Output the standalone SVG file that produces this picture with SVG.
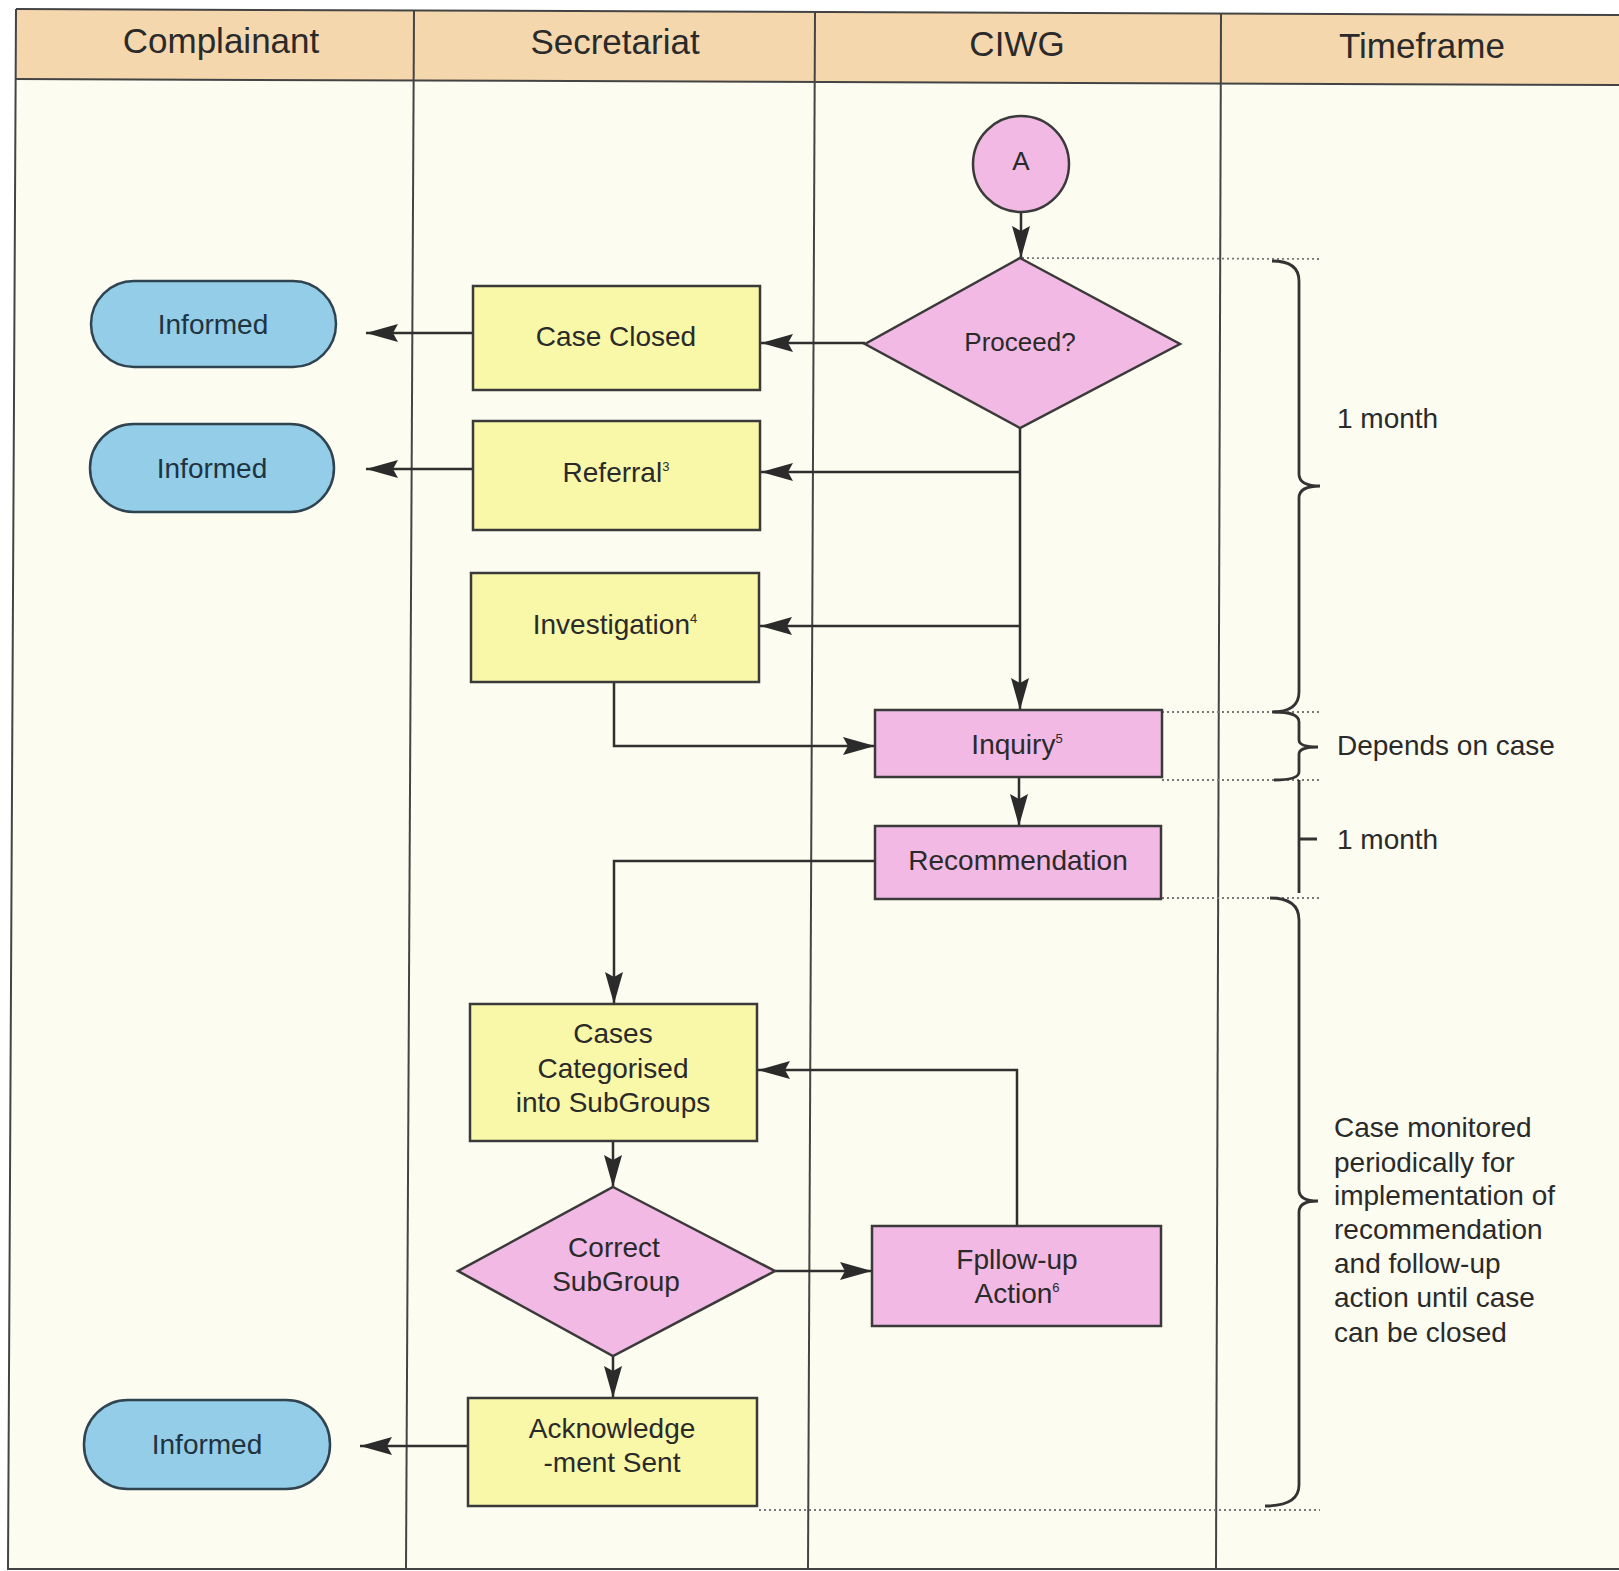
<svg xmlns="http://www.w3.org/2000/svg" width="1619" height="1571" viewBox="0 0 1619 1571">
<defs>
<marker id="ah" markerUnits="userSpaceOnUse" markerWidth="34" markerHeight="20" refX="32" refY="9" orient="auto">
<path d="M0,0 L32,9 L0,18 L5,9 z" fill="#2b2b2b"/>
</marker>
</defs>
<style>
.lane{stroke:#444;stroke-width:2;fill:none}
.hdr{font-family:"Liberation Sans",Arial,sans-serif;font-size:35px;fill:#2a2a2a;text-anchor:middle}
.t{font-family:"Liberation Sans",Arial,sans-serif;font-size:28px;fill:#2a2a2a;text-anchor:middle}
.tb{fill:#1f3340}
.tf{font-family:"Liberation Sans",Arial,sans-serif;font-size:28px;fill:#2a2a2a}
.yel{fill:#f9f8a8;stroke:#3a3a3a;stroke-width:2.5}
.pink{fill:#f1b9e3;stroke:#3a3a3a;stroke-width:2.5}
.blue{fill:#93cde8;stroke:#2f4450;stroke-width:2.5}
.con{fill:none;stroke:#2f2f2f;stroke-width:2.5}
.arr{marker-end:url(#ah)}
.dot{stroke:#777;stroke-width:1.8;stroke-dasharray:2 3;fill:none}
.brace{fill:none;stroke:#333;stroke-width:2.8}
.sup{font-size:13px}
</style>
<rect x="0" y="0" width="1619" height="1571" fill="#ffffff"/>
<polygon points="16,9 1619,15 1619,1569 8,1569" fill="#fdfcf0"/>
<polygon points="16,9 1619,15 1619,85 15,79" fill="#f5d7ae"/>
<g id="frame">
<polyline class="lane" points="16,9 1619,15"/>
<polyline class="lane" points="15,79 1619,85"/>
<polyline class="lane" points="16,9 8,1569 1619,1569"/>
<line class="lane" x1="414" y1="10" x2="406" y2="1569"/>
<line class="lane" x1="815" y1="12" x2="808" y2="1569"/>
<line class="lane" x1="1221" y1="13" x2="1216" y2="1569"/>
</g>
<g id="headers">
<text class="hdr" x="221" y="53">Complainant</text>
<text class="hdr" x="615" y="54">Secretariat</text>
<text class="hdr" x="1017" y="56">CIWG</text>
<text class="hdr" x="1422" y="58">Timeframe</text>
</g>
<g id="guides">
<line class="dot" x1="1022" y1="258" x2="1322" y2="259"/>
<line class="dot" x1="1162" y1="712" x2="1322" y2="712"/>
<line class="dot" x1="1162" y1="780" x2="1322" y2="780"/>
<line class="dot" x1="1162" y1="898" x2="1322" y2="898"/>
<line class="dot" x1="759" y1="1510" x2="1320" y2="1510"/>
</g>
<g id="braces">
<path class="brace" d="M1272,261 Q1299,261 1299,281 L1299,474 Q1299,486 1320,486 Q1299,486 1299,498 L1299,692 Q1299,712 1272,712"/>
<path class="brace" d="M1274,712 Q1299,712 1299,722 L1299,740 Q1299,747 1318,747 Q1299,747 1299,754 L1299,772 Q1299,780 1274,780"/>
<path class="brace" d="M1299,780 L1299,893 M1299,839 L1317,839"/>
<path class="brace" d="M1270,898 Q1299,898 1299,920 L1299,1190 Q1299,1201 1318,1201 Q1299,1201 1299,1212 L1299,1485 Q1299,1506 1265,1506"/>
</g>
<g id="timeframe-labels">
<text class="tf" x="1337" y="428">1 month</text>
<text class="tf" x="1337" y="755">Depends on case</text>
<text class="tf" x="1337" y="849">1 month</text>
<text class="tf" x="1334" y="1137">Case monitored</text>
<text class="tf" x="1334" y="1172">periodically for</text>
<text class="tf" x="1334" y="1205">implementation of</text>
<text class="tf" x="1334" y="1239">recommendation</text>
<text class="tf" x="1334" y="1273">and follow-up</text>
<text class="tf" x="1334" y="1307">action until case</text>
<text class="tf" x="1334" y="1342">can be closed</text>
</g>
<g id="connectors">
<line class="con arr" x1="1021" y1="213" x2="1021" y2="258"/>
<line class="con arr" x1="865" y1="343" x2="761" y2="343"/>
<line class="con arr" x1="473" y1="333" x2="366" y2="333"/>
<line class="con arr" x1="1020" y1="428" x2="1020" y2="710"/>
<line class="con arr" x1="1020" y1="472" x2="761" y2="472"/>
<line class="con arr" x1="473" y1="469" x2="366" y2="469"/>
<line class="con arr" x1="1020" y1="626" x2="760" y2="626"/>
<polyline class="con arr" points="614,682 614,746 875,746"/>
<line class="con arr" x1="1019" y1="777" x2="1019" y2="826"/>
<polyline class="con arr" points="875,861 614,861 614,1004"/>
<line class="con arr" x1="613" y1="1141" x2="613" y2="1187"/>
<line class="con arr" x1="775" y1="1271" x2="872" y2="1271"/>
<polyline class="con arr" points="1017,1226 1017,1070 758,1070"/>
<line class="con arr" x1="613" y1="1356" x2="613" y2="1398"/>
<line class="con arr" x1="468" y1="1446" x2="360" y2="1446"/>
</g>
<g id="node-A">
<circle class="pink" cx="1021" cy="164" r="48"/>
<text class="t" x="1021" y="170" style="font-size:26px">A</text>
</g>
<g id="node-proceed">
<polygon class="pink" points="1020,258 1180,344 1020,428 865,344"/>
<text class="t" x="1020" y="351" style="font-size:26px">Proceed?</text>
</g>
<g id="node-case-closed">
<rect class="yel" x="473" y="286" width="287" height="104"/>
<text class="t" x="616" y="346">Case Closed</text>
</g>
<g id="node-referral">
<rect class="yel" x="473" y="421" width="287" height="109"/>
<text class="t" x="616" y="482">Referral<tspan class="sup" dy="-11">3</tspan></text>
</g>
<g id="node-investigation">
<rect class="yel" x="471" y="573" width="288" height="109"/>
<text class="t" x="615" y="634">Investigation<tspan class="sup" dy="-11">4</tspan></text>
</g>
<g id="node-inquiry">
<rect class="pink" x="875" y="710" width="287" height="67"/>
<text class="t" x="1017" y="754">Inquiry<tspan class="sup" dy="-11">5</tspan></text>
</g>
<g id="node-recommendation">
<rect class="pink" x="875" y="826" width="286" height="73"/>
<text class="t" x="1018" y="870">Recommendation</text>
</g>
<g id="node-cases-categorised">
<rect class="yel" x="470" y="1004" width="287" height="137"/>
<text class="t" x="613" y="1043">Cases</text>
<text class="t" x="613" y="1078">Categorised</text>
<text class="t" x="613" y="1112">into SubGroups</text>
</g>
<g id="node-correct-subgroup">
<polygon class="pink" points="613,1187 775,1271 613,1356 458,1271"/>
<text class="t" x="614" y="1257">Correct</text>
<text class="t" x="616" y="1291">SubGroup</text>
</g>
<g id="node-followup">
<rect class="pink" x="872" y="1226" width="289" height="100"/>
<text class="t" x="1017" y="1269">Fpllow-up</text>
<text class="t" x="1017" y="1303">Action<tspan class="sup" dy="-11">6</tspan></text>
</g>
<g id="node-acknowledgement">
<rect class="yel" x="468" y="1398" width="289" height="108"/>
<text class="t" x="612" y="1438">Acknowledge</text>
<text class="t" x="612" y="1472">-ment Sent</text>
</g>
<g id="node-informed-1">
<rect class="blue" x="91" y="281" width="245" height="86" rx="43" ry="43"/>
<text class="t tb" x="213" y="334">Informed</text>
</g>
<g id="node-informed-2">
<rect class="blue" x="90" y="424" width="244" height="88" rx="44" ry="44"/>
<text class="t tb" x="212" y="478">Informed</text>
</g>
<g id="node-informed-3">
<rect class="blue" x="84" y="1400" width="246" height="89" rx="44" ry="44"/>
<text class="t tb" x="207" y="1454">Informed</text>
</g>
</svg>
